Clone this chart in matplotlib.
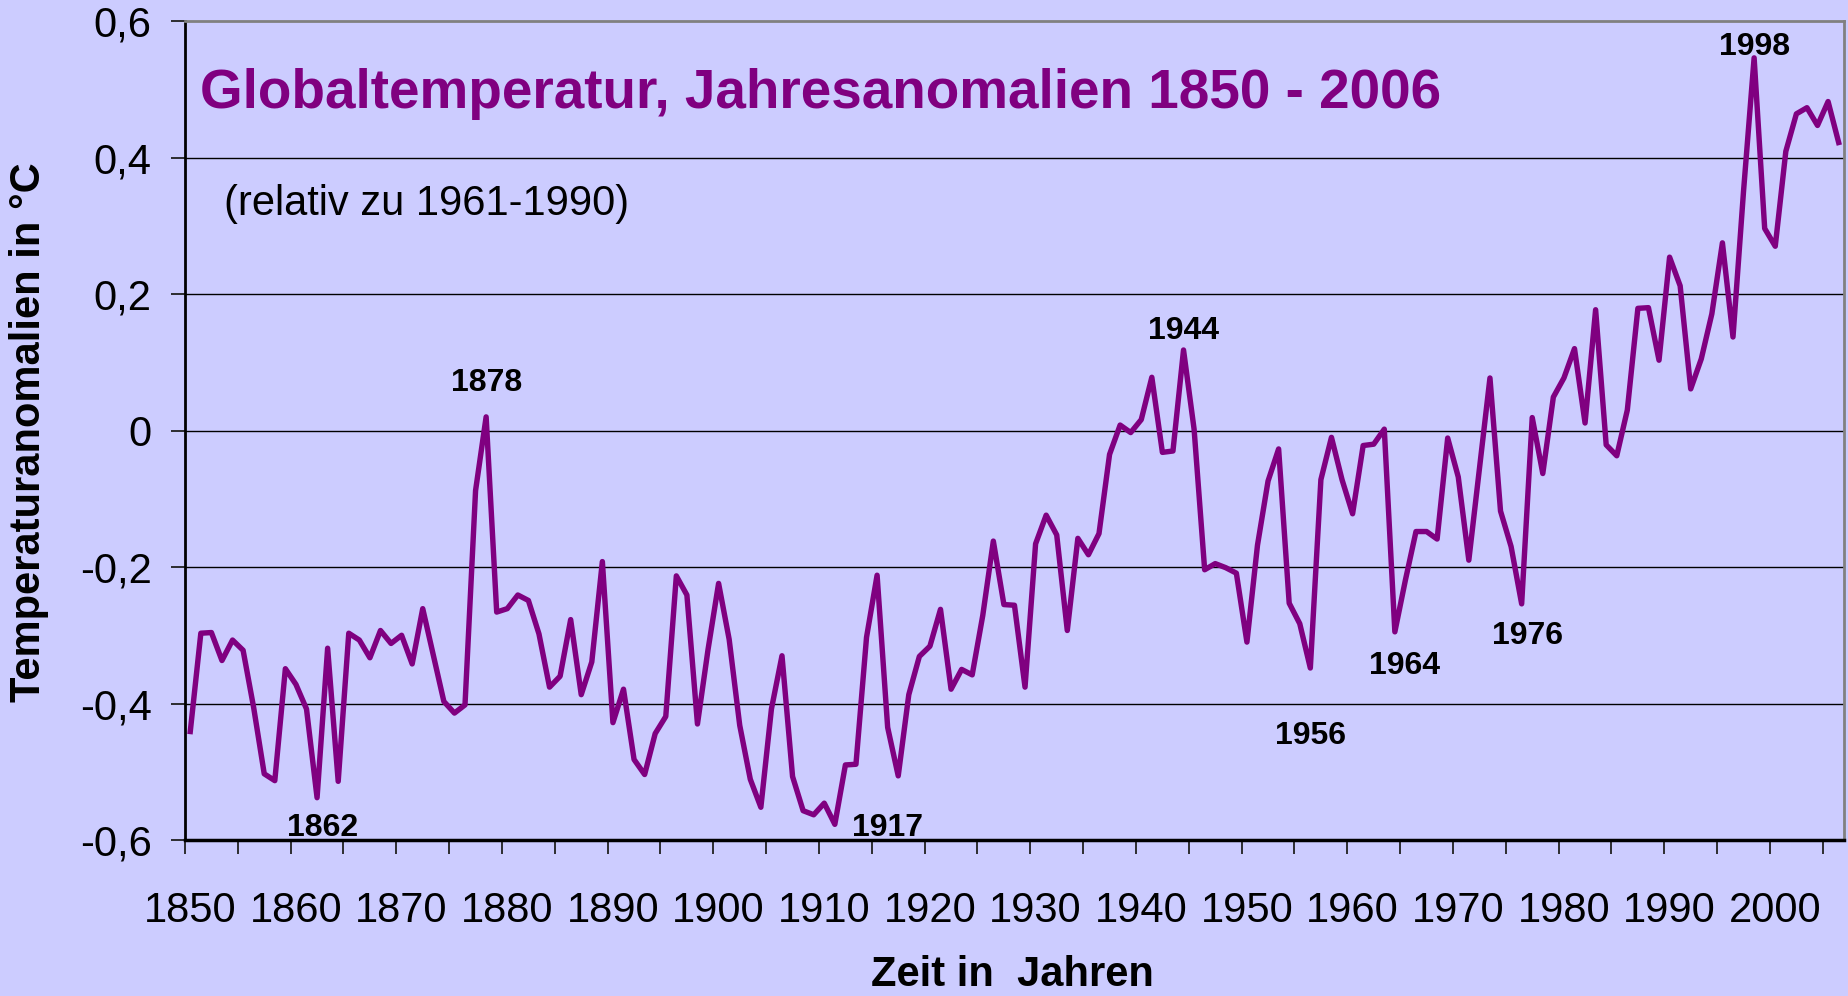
import numpy as np
import matplotlib.pyplot as plt

plt.rcParams['font.family'] = ['Liberation Sans', 'DejaVu Sans']

# Jahresanomalien (relativ zu 1961-1990)
years = np.arange(1850, 2007)
anomalies = [
    -0.441, -0.297, -0.296, -0.337, -0.307, -0.322, -0.406, -0.503, -0.513, -0.349,  # 1850
    -0.372, -0.408, -0.538, -0.319, -0.514, -0.297, -0.307, -0.333, -0.293, -0.312,  # 1860
    -0.300, -0.342, -0.261, -0.329, -0.397, -0.414, -0.402, -0.088, 0.020, -0.266,   # 1870
    -0.261, -0.241, -0.249, -0.298, -0.376, -0.360, -0.277, -0.387, -0.339, -0.192,  # 1880
    -0.428, -0.379, -0.482, -0.504, -0.444, -0.419, -0.213, -0.241, -0.430, -0.321,  # 1890
    -0.224, -0.306, -0.432, -0.511, -0.552, -0.408, -0.330, -0.507, -0.557, -0.563,  # 1900
    -0.546, -0.577, -0.490, -0.489, -0.303, -0.212, -0.435, -0.506, -0.387, -0.331,  # 1910
    -0.316, -0.262, -0.379, -0.350, -0.358, -0.271, -0.162, -0.255, -0.256, -0.376,  # 1920
    -0.166, -0.124, -0.153, -0.293, -0.158, -0.182, -0.151, -0.035, 0.008, -0.003,   # 1930
    0.016, 0.078, -0.032, -0.030, 0.118, 0.002, -0.204, -0.195, -0.201, -0.209,      # 1940
    -0.310, -0.168, -0.074, -0.027, -0.253, -0.283, -0.348, -0.072, -0.010, -0.072,  # 1950
    -0.122, -0.022, -0.020, 0.002, -0.295, -0.219, -0.148, -0.148, -0.159, -0.011,   # 1960
    -0.068, -0.190, -0.056, 0.077, -0.118, -0.170, -0.254, 0.019, -0.063, 0.049,     # 1970
    0.077, 0.120, 0.011, 0.177, -0.021, -0.037, 0.030, 0.179, 0.180, 0.103,          # 1980
    0.254, 0.212, 0.061, 0.105, 0.171, 0.275, 0.137, 0.351, 0.546, 0.296,            # 1990
    0.270, 0.409, 0.464, 0.473, 0.447, 0.482, 0.422,                                 # 2000
]
anomalies = np.array(anomalies)

label_years = np.arange(1850, 2001, 10)
y_ticks = [-0.6, -0.4, -0.2, 0, 0.2, 0.4, 0.6]
y_labels = ['-0,6', '-0,4', '-0,2', '0', '0,2', '0,4', '0,6']
marked_years = [1862, 1878, 1917, 1944, 1956, 1964, 1976, 1998]

bg = '#CCCCFF'
purple = '#800080'

fig = plt.figure(figsize=(18.48, 9.96), dpi=100, facecolor=bg)
ax = fig.add_axes([0.1001, 0.1566, 0.8977, 0.8223], facecolor=bg)

for v in [-0.4, -0.2, 0, 0.2, 0.4]:
    ax.axhline(v, color='black', lw=1.0, zorder=1)

ax.plot(years, anomalies, color=purple, lw=3.9, solid_joinstyle='round', zorder=3)

ax.set_xlim(1849.5, 2006.5)
ax.set_ylim(-0.6, 0.6)

# Excel-Kategorieachse: Striche zwischen den Jahren, Beschriftung auf den Jahren
ax.set_xticks(np.arange(1849.5, 2006, 5))
ax.set_xticklabels([])
ax.set_xticks(label_years, minor=True)
ax.set_xticklabels([str(y) for y in label_years], minor=True, fontsize=30)
ax.tick_params(axis='x', which='major', length=10, width=1.3, color='#202020', direction='out')
ax.tick_params(axis='x', which='minor', length=0, pad=37)

ax.set_yticks(y_ticks)
ax.set_yticklabels(y_labels, fontsize=30)
ax.tick_params(axis='y', length=10, width=1.3, color='#202020', direction='out', pad=14)

ax.spines['left'].set_linewidth(2)
ax.spines['bottom'].set_linewidth(2.5)
ax.spines['top'].set_color('#808080')
ax.spines['right'].set_color('#808080')
ax.spines['top'].set_linewidth(2)
ax.spines['right'].set_linewidth(2)

ax.text(0.009, 0.894, 'Globaltemperatur, Jahresanomalien 1850 - 2006', transform=ax.transAxes,
        fontsize=39.5, fontweight='bold', color=purple, ha='left', va='baseline')
ax.text(0.0235, 0.763, '(relativ zu 1961-1990)', transform=ax.transAxes,
        fontsize=30, ha='left', va='baseline')

offsets = {1862: (5, -30), 1878: (0, 34), 1917: (-11, -52), 1944: (0, 19),
           1956: (0, -68), 1964: (10, -34), 1976: (6, -32), 1998: (0, 11)}
for yr in marked_years:
    val = anomalies[yr - 1850]
    ax.annotate(str(yr), xy=(yr, val), xytext=offsets[yr], textcoords='offset pixels',
                ha='center', va='center', fontsize=23, fontweight='bold', zorder=4)

fig.text(0.548, 0.021, 'Zeit in  Jahren', fontsize=30, fontweight='bold', ha='center', va='center')
fig.text(0.0157, 0.566, 'Temperaturanomalien in °C', fontsize=30, fontweight='bold',
         rotation=90, ha='center', va='center')

fig.savefig('out.png', dpi=100, facecolor=bg)
